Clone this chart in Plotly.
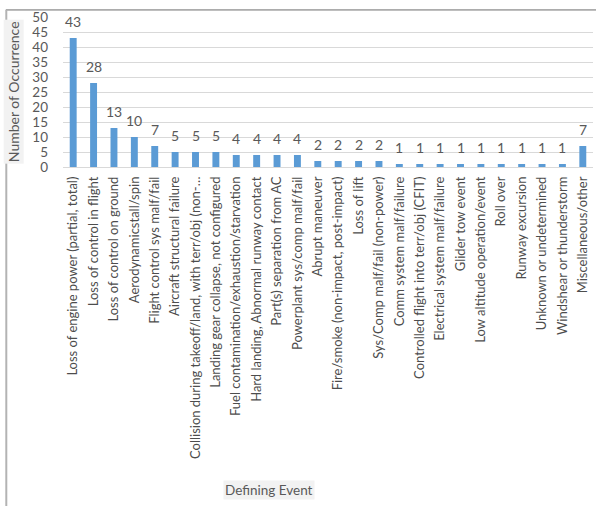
import plotly.graph_objects as go

categories = [
    "Loss of engine power (partial, total)",
    "Loss of control in flight",
    "Loss of control on ground",
    "Aerodynamicstall/spin",
    "Flight control sys malf/fail",
    "Aircraft structural failure",
    "Collision during takeoff/land, with terr/obj (non-…",
    "Landing gear collapse, not configured",
    "Fuel contamination/exhaustion/starvation",
    "Hard landing, Abnormal runway contact",
    "Part(s) separation from AC",
    "Powerplant sys/comp malf/fail",
    "Abrupt maneuver",
    "Fire/smoke (non-impact, post-impact)",
    "Loss of lift",
    "Sys/Comp malf/fail (non-power)",
    "Comm system malf/failure",
    "Controlled flight into terr/obj (CFIT)",
    "Electrical system malf/failure",
    "Glider tow event",
    "Low altitude operation/event",
    "Roll over",
    "Runway excursion",
    "Unknown or undetermined",
    "Windshear or thunderstorm",
    "Miscellaneous/other",
]
counts = [43, 28, 13, 10, 7, 5, 5, 5, 4, 4, 4, 4, 2, 2, 2, 2, 1, 1, 1, 1, 1, 1, 1, 1, 1, 7]
y_ticks = [0, 5, 10, 15, 20, 25, 30, 35, 40, 45, 50]

FONT = "Lato"
GREY = "#595959"

fig = go.Figure()
fig.add_trace(go.Bar(x=categories, y=counts, marker_color="#5b9bd5",
                     marker_line_width=0, showlegend=False))

for c, v in zip(categories, counts):
    fig.add_annotation(x=c, y=v, text=str(v), showarrow=False,
                       yanchor="middle", yshift=17,
                       font=dict(family=FONT, size=14, color=GREY))

fig.add_annotation(xref="paper", yref="paper", x=-0.094, y=0.5,
                   text="Number of Occurrence", textangle=-90, showarrow=False,
                   bgcolor="#f2f2f2", borderpad=1,
                   font=dict(family=FONT, size=14, color=GREY),
                   xanchor="center", yanchor="middle")
fig.add_annotation(xref="paper", yref="paper", x=0.389, y=-2.155,
                   text="Defining Event", showarrow=False,
                   bgcolor="#f2f2f2", font=dict(family=FONT, size=13.5, color=GREY),
                   xanchor="center", yanchor="middle")

# chart frame lines
fig.add_shape(type="line", xref="paper", yref="paper", x0=-0.108, x1=1.01, y0=1.047, y1=1.047,
              line=dict(color="#6b6b6b", width=1))
fig.add_shape(type="line", xref="paper", yref="paper", x0=-0.107, x1=-0.107, y0=1.047, y1=-2.3,
              line=dict(color="#b3b3b3", width=2))

fig.update_layout(
    width=596, height=506,
    margin=dict(l=63, r=3, t=17, b=339),
    plot_bgcolor="white", paper_bgcolor="white",
    bargap=0.66,
    font=dict(family=FONT, color=GREY),
    xaxis=dict(tickangle=-90, tickfont=dict(family=FONT, size=13, color="#4d4d4d"),
               showgrid=False, showline=False, ticks="", ticklabelstandoff=6),
    yaxis=dict(range=[0, 50], tickvals=y_ticks, showgrid=True, gridcolor="#d9d9d9",
               gridwidth=1, zeroline=True, zerolinecolor="#d9d9d9", zerolinewidth=1,
               tickfont=dict(family=FONT, size=13.5, color=GREY), ticklabelstandoff=14),
)

fig.write_html("out.html")
